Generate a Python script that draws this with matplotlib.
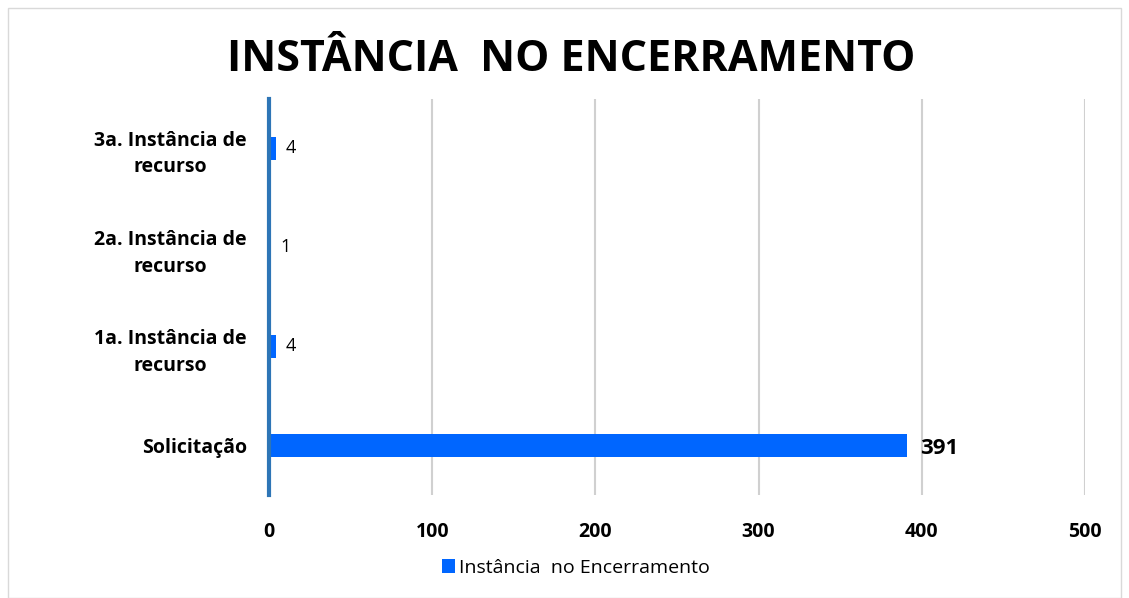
import matplotlib.pyplot as plt
from matplotlib.patches import Rectangle

# Dados
categorias = ['Solicitação', '1a. Instância de\nrecurso', '2a. Instância de\nrecurso', '3a. Instância de\nrecurso']
valores = [391, 4, 1, 4]
rotulos_x = [0, 100, 200, 300, 400, 500]
serie = 'Instância  no Encerramento'

plt.rcParams['font.family'] = ['Open Sans', 'DejaVu Sans']

fig = plt.figure(figsize=(11.29, 5.98), dpi=100)
ax = fig.add_axes([0.2383, 0.172, 0.7227, 0.663])

# Borda da figura
fig.patches.append(Rectangle((0.007, 0.0), 0.986, 0.987, transform=fig.transFigure,
                             fill=False, edgecolor='#d9d9d9', linewidth=1))

y = range(len(categorias))
barras = ax.barh(y, valores, height=0.23, color='#0066ff', label=serie, zorder=3)

for i, v in enumerate(valores):
    if v > 100:
        ax.text(v + 8, i - 0.03, str(v), va='center', ha='left',
                fontsize=16, fontweight='bold', color='black')
    else:
        ax.text(v + 6, i, str(v), va='center', ha='left', fontsize=13, color='black')

ax.set_xlim(0, 500)
ax.set_ylim(-0.5, 3.5)
ax.set_xticks(rotulos_x)
ax.set_xticklabels([str(t) for t in rotulos_x], fontsize=14, fontweight='bold')
ax.set_yticks(list(y))
ax.set_yticklabels(categorias, fontsize=14, fontweight='bold', ha='right',
                   multialignment='center', linespacing=1.45)
ax.tick_params(axis='y', pad=16, length=0)
ax.tick_params(axis='x', pad=19, length=0)

ax.grid(axis='x', color='#d0d0d0', linewidth=1.5, zorder=0)
for s in ['top', 'right', 'bottom']:
    ax.spines[s].set_visible(False)
ax.spines['left'].set_color('#2e75b6')
ax.spines['left'].set_linewidth(3)
ax.spines['left'].set_zorder(4)

fig.text(0.506, 0.9, 'INSTÂNCIA  NO ENCERRAMENTO', ha='center', va='center',
         fontsize=31, fontweight='bold')

fig.legend(handles=[barras], labels=[serie], loc='center', bbox_to_anchor=(0.51, 0.05),
           frameon=False, fontsize=14, handlelength=0.7, handleheight=0.7, handletextpad=0.2)

plt.savefig('out.png', dpi=100)
